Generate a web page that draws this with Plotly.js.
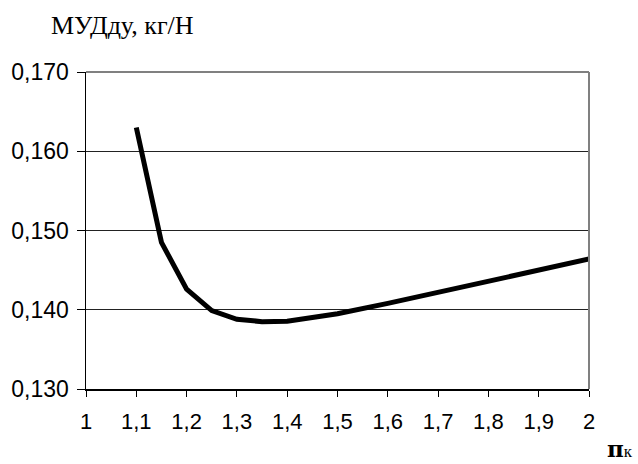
<!DOCTYPE html>
<html>
<head>
<meta charset="utf-8">
<script src="https://cdn.plot.ly/plotly-3.0.1.min.js"></script>
<style>html,body{margin:0;padding:0;background:#fff;}#chart{width:638px;height:464px;}</style>
</head>
<body>
<div id="chart"></div>
<script>
// data
const piK = [1.1, 1.15, 1.2, 1.25, 1.3, 1.35, 1.4, 1.5, 1.6, 1.7, 1.8, 1.9, 2.0];
const mud = [0.163, 0.1485, 0.1426, 0.1399, 0.1388, 0.1385, 0.13855, 0.1395, 0.1408, 0.1422, 0.1436, 0.1450, 0.1464];
const xTickVals = [1, 1.1, 1.2, 1.3, 1.4, 1.5, 1.6, 1.7, 1.8, 1.9, 2];
const xTickText = ['1', '1,1', '1,2', '1,3', '1,4', '1,5', '1,6', '1,7', '1,8', '1,9', '2'];
const yTickVals = [0.130, 0.140, 0.150, 0.160, 0.170];
const yTickText = ['0,130', '0,140', '0,150', '0,160', '0,170'];
const yTitle = 'МУДду, кг/Н';

const trace = {
  x: piK, y: mud, type: 'scatter', mode: 'lines',
  line: {color: '#000', width: 5}, hoverinfo: 'skip'
};

const layout = {
  width: 638, height: 464,
  margin: {l: 86, r: 49, t: 72, b: 75},
  paper_bgcolor: '#fff', plot_bgcolor: '#fff',
  showlegend: false,
  font: {family: 'Liberation Sans, Arial, sans-serif', color: '#000', size: 22},
  xaxis: {
    range: [1, 2], tickvals: xTickVals, ticktext: xTickText,
    ticks: 'outside', ticklen: 6, tickcolor: '#000', tickwidth: 1,
    showline: true, linecolor: '#000', linewidth: 1.5,
    showgrid: false, zeroline: false, ticklabelstandoff: 6,
    tickfont: {size: 22}
  },
  yaxis: {
    range: [0.130, 0.170], tickvals: yTickVals, ticktext: yTickText,
    ticks: 'outside', ticklen: 8, tickcolor: '#000', tickwidth: 1,
    showline: true, linecolor: '#000', linewidth: 1.5,
    showgrid: true, gridcolor: '#222', gridwidth: 1, zeroline: false,
    ticklabelstandoff: 3,
    tickfont: {size: 23}
  },
  shapes: [
    {type: 'line', xref: 'paper', yref: 'paper', x0: 0, x1: 1, y0: 1, y1: 1, line: {color: '#808080', width: 2}},
    {type: 'line', xref: 'paper', yref: 'paper', x0: 1, x1: 1, y0: 0, y1: 1, line: {color: '#808080', width: 2}}
  ],
  annotations: [
    {text: yTitle, xref: 'paper', yref: 'paper', x: -0.074, y: 1.095, xanchor: 'left', yanchor: 'bottom',
     showarrow: false, font: {family: 'Liberation Serif, Times New Roman, serif', size: 26, color: '#000'}},
    {text: '<b>π</b><span style="font-family:Liberation Serif;font-size:17px">к</span>', xref: 'paper', yref: 'paper', x: 1.09, y: -0.234,
     xanchor: 'right', yanchor: 'bottom', showarrow: false, borderpad: 0,
     font: {family: 'DejaVu Serif, serif', size: 23, color: '#000'}}
  ]
};

Plotly.newPlot('chart', [trace], layout, {displayModeBar: false, staticPlot: true});
</script>
</body>
</html>
